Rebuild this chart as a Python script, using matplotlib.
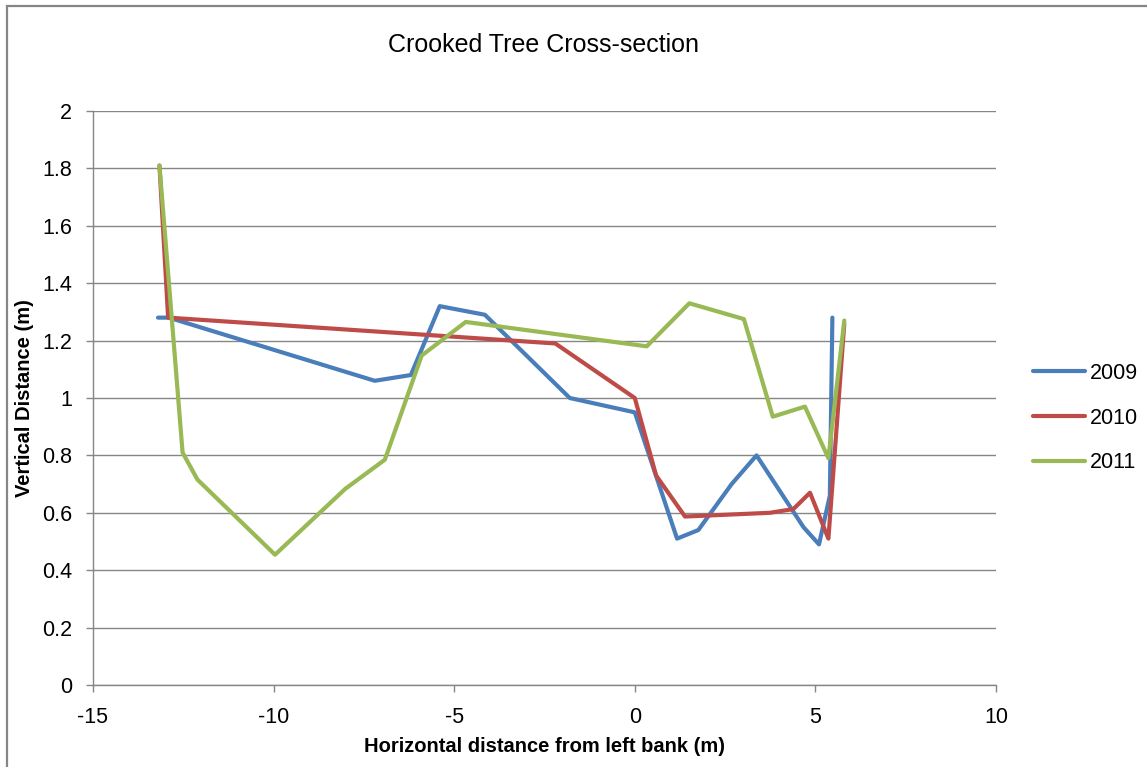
import matplotlib
matplotlib.use("Agg")
import matplotlib.pyplot as plt
from matplotlib.patches import Rectangle
from matplotlib.ticker import FuncFormatter

# Survey data: horizontal distance from left bank (m) vs vertical distance (m)
x_2009 = [-13.2, -12.9, -7.2, -6.2, -5.4, -4.15, -1.8, 0.0, 1.17, 1.76, 2.68, 3.37, 4.67, 5.1, 5.4, 5.47]
y_2009 = [1.28, 1.28, 1.06, 1.08, 1.32, 1.29, 1.00, 0.95, 0.51, 0.54, 0.70, 0.80, 0.55, 0.49, 0.66, 1.28]

x_2010 = [-13.16, -12.92, -2.2, 0.0, 0.59, 1.39, 3.74, 4.39, 4.85, 5.36, 5.80]
y_2010 = [1.81, 1.28, 1.19, 1.00, 0.73, 0.587, 0.60, 0.613, 0.67, 0.51, 1.26]

x_2011 = [-13.16, -12.52, -12.11, -9.96, -8.02, -6.92, -5.9, -4.68, 0.33, 1.51, 3.02, 3.82, 4.71, 5.36, 5.80]
y_2011 = [1.81, 0.81, 0.716, 0.454, 0.683, 0.785, 1.148, 1.265, 1.18, 1.33, 1.275, 0.935, 0.97, 0.79, 1.27]

series_labels = ["2009", "2010", "2011"]
series_colors = ["#4A7EBB", "#BE4B48", "#98B954"]

title = "Crooked Tree Cross-section"
xlabel = "Horizontal distance from left bank (m)"
ylabel = "Vertical Distance (m)"

plt.rcParams["font.family"] = ["Liberation Sans", "DejaVu Sans"]
plt.rcParams["axes.unicode_minus"] = False

W, H = 1147, 767
fig = plt.figure(figsize=(W / 100, H / 100), dpi=100)
fig.patch.set_facecolor("white")

# outer chart border
fig.patches.append(Rectangle((7 / W, -0.05), 1.2, (H - 6) / H + 0.05,
                             transform=fig.transFigure, fill=False,
                             edgecolor="#868686", linewidth=1.6))

ax = fig.add_axes([93 / W, 1 - 685 / H, (996 - 93) / W, (685 - 111) / H])

grey = "#868686"
for xs, ys, lab, col in zip([x_2009, x_2010, x_2011], [y_2009, y_2010, y_2011],
                            series_labels, series_colors):
    ax.plot(xs, ys, color=col, lw=3.0, label=lab, solid_joinstyle="round",
            solid_capstyle="round")

ax.set_xlim(-15, 10)
ax.set_ylim(0, 2)
ax.set_xticks([-15, -10, -5, 0, 5, 10])
ax.set_yticks([0, 0.2, 0.4, 0.6, 0.8, 1.0, 1.2, 1.4, 1.6, 1.8, 2.0])
ax.yaxis.set_major_formatter(FuncFormatter(lambda v, p: f"{v:g}"))
ax.grid(axis="y", color=grey, lw=1.0)
ax.set_axisbelow(True)
for s in ["top", "right"]:
    ax.spines[s].set_visible(False)
for s in ["left", "bottom"]:
    ax.spines[s].set_color(grey)
    ax.spines[s].set_linewidth(1.0)
ax.tick_params(axis="both", colors=grey, labelcolor="black", length=5, width=1.0,
               labelsize=15.5)
ax.tick_params(axis="y", pad=10)
ax.tick_params(axis="x", pad=11)

fig.text(544 / W, 1 - 45 / H, title, ha="center", va="center", fontsize=18)
fig.text(544 / W, 1 - 746 / H, xlabel, ha="center", va="center", fontsize=14.5,
         fontweight="bold")
fig.text(25 / W, 1 - 398 / H, ylabel, ha="center", va="center", fontsize=14.5,
         fontweight="bold", rotation=90)

ax.legend(loc="center left", bbox_to_anchor=(1033 / W, 1 - 418 / H),
          bbox_transform=fig.transFigure, frameon=False, fontsize=15.5,
          handlelength=2.4, handletextpad=0.25, labelspacing=1.1,
          borderpad=0, borderaxespad=0)

fig.savefig("out.png", dpi=100)
